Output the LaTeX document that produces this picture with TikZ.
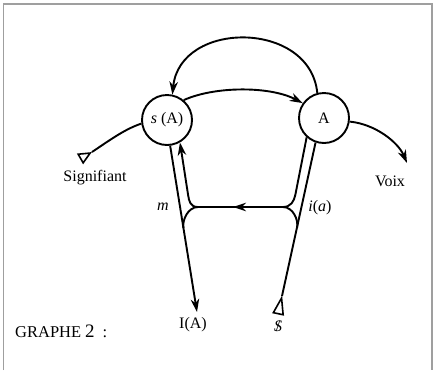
\documentclass[tikz,border=0pt]{standalone}
\usepackage{fontspec}
\setmainfont{Liberation Serif}
\usetikzlibrary{arrows.meta,shapes.geometric}
\begin{document}
\begin{tikzpicture}[x=1pt,y=-1pt,
  ln/.style={line width=1.9pt},
  arr/.style={ln,-{Stealth[length=13pt,width=8.5pt,inset=4pt]}},
  circ/.style={circle,draw,line width=1.9pt,minimum size=50pt,inner sep=0pt,font=\fontsize{16}{18}\selectfont},
  lbl/.style={font=\fontsize{16}{18}\selectfont,inner sep=0pt},
  tailtri/.style={isosceles triangle,draw,line width=1.6pt,inner sep=0pt,anchor=apex,isosceles triangle stretches,minimum height=11pt,minimum width=10pt}
]
\useasboundingbox (0,0) rectangle (435,370);
\fill[white] (0,0) rectangle (435,370);
\draw[gray!75,line width=1.2pt] (3.5,370) -- (3.5,4) -- (432,4) -- (432,370);

\node[circ] (sA) at (167,120) {\textit{s} (A)};
\node[circ] (A) at (324,118) {A};

\node[lbl] (sig) at (95,178) {Signifiant};
\node[lbl] (voix) at (390,181) {Voix};
\node[lbl] (IA) at (193,325) {I(A)};
\node[lbl] (S) at (278,326) {\ooalign{\textit{S}\cr\hidewidth/\hidewidth}};
\node[lbl] (m) at (163,207) {\textit{m}};
\node[lbl] (ia) at (320,208) {\textit{i}(\textit{a})};
\node[lbl,anchor=west,font=\fontsize{16.5}{18}\selectfont] (gr) at (15,331) {GRAPHE\hspace{4pt}{\fontsize{19}{20}\selectfont 2}\hspace{8pt}:};

\coordinate (sigp) at (92,152);
\coordinate (vx) at (407,163);
\coordinate (iap) at (197,312);
\coordinate (dol) at (282,296);
\coordinate (lj) at (198,207);
\coordinate (rj) at (283,207);
\coordinate (hm) at (233,207);
\coordinate (m1) at (183.4,228);
\coordinate (m2) at (297,228);

\draw[arr] (A.105) .. controls (310,20) and (180,20) .. (sA.78);
\draw[arr] (sA.50) .. controls (215,86) and (270,86) .. (A.145);
\draw[ln] (sigp) .. controls (110,140) and (125,129) .. (sA.188);
\draw[arr] (A.-8) .. controls (375,124) and (398,142) .. (vx);
\draw[arr] (sA.-83) -- (iap);
\draw[ln] (dol) -- (A.-109);
\draw[ln] (rj) -- (lj);
\draw[arr] (rj) -- (hm);
\draw[arr] (lj) .. controls (190,207) and (189.1,201) .. (188.1,195) -- (sA.-60);
\draw[ln] (lj) .. controls (188,207) and (182.1,220) .. (m1);
\draw[ln] (rj) .. controls (291,207) and (294,201) .. (295.3,195) -- (A.-132);
\draw[ln] (rj) .. controls (293,207) and (298.8,220) .. (m2);

\node[tailtri,rotate=30] (t1) at (sigp) {};
\node[tailtri,rotate=78,minimum height=16pt,minimum width=10pt] (t2) at (dol) {};
\end{tikzpicture}
\end{document}
